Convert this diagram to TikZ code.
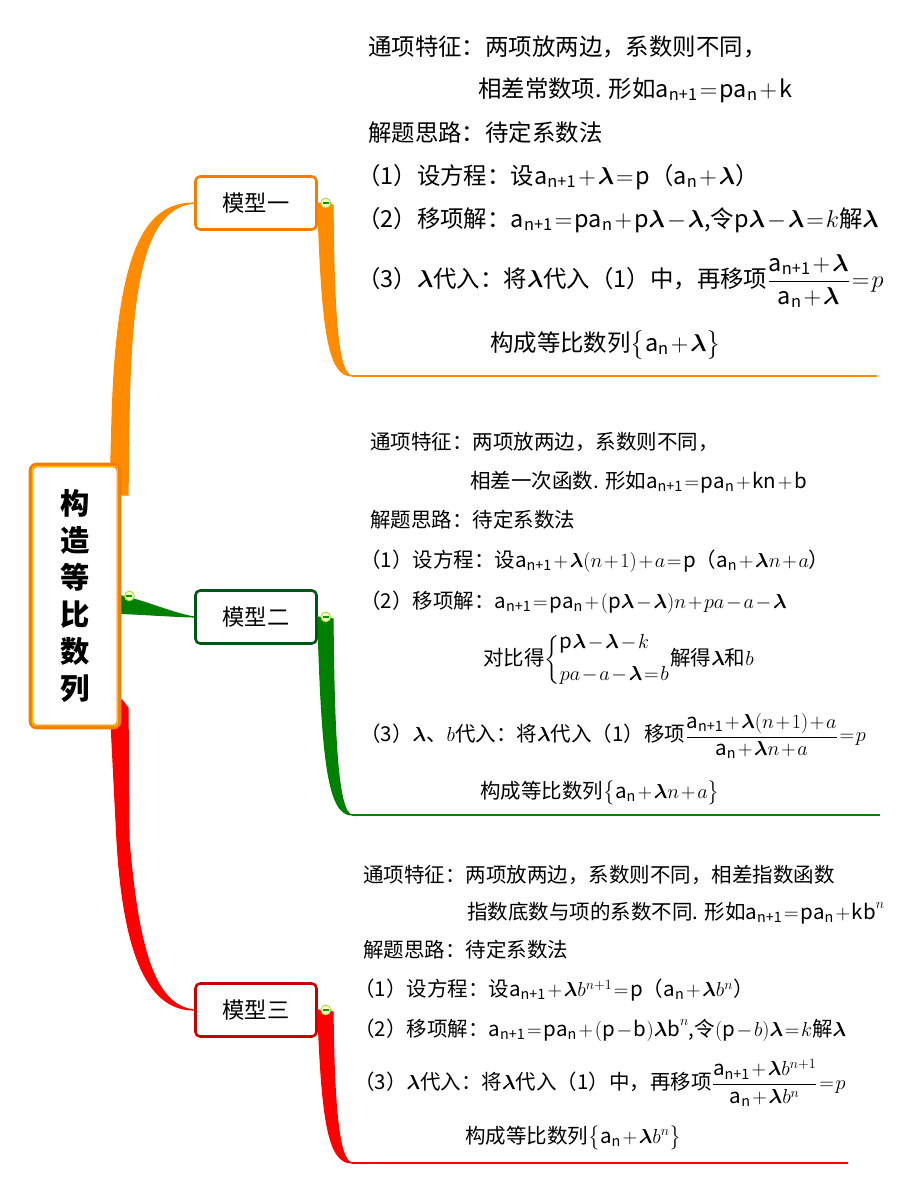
\documentclass[tikz,border=0pt]{standalone}
\usepackage{amsmath}
\usepackage{fontspec}
\setmainfont{Noto Sans CJK SC}
\usetikzlibrary{calc}

\definecolor{orangeA}{RGB}{255,140,0}
\definecolor{orangeB}{RGB}{242,125,0}
\definecolor{greenA}{RGB}{0,128,0}
\definecolor{greenB}{RGB}{0,85,20}
\definecolor{redA}{RGB}{255,0,0}
\definecolor{redB}{RGB}{200,0,0}
\definecolor{knobfill}{RGB}{240,255,190}

% a with an upright subscript, and a heavy lambda
\newcommand{\sa}[1]{\text{a}_{\text{#1}}}
\newcommand{\lam}{\boldsymbol{\lambda}}
% tight formulas, as in the notes
\medmuskip=1.5mu
\thickmuskip=1.5mu

\tikzset{
  root/.style={draw=orangeB, line width=4pt, rounded corners=5pt, fill=white,
    minimum width=2.64cm, minimum height=7.86cm, inner sep=0pt, align=center,
    font=\fontsize{25}{31.5}\selectfont\bfseries},
  model/.style={draw=#1, line width=2.2pt, rounded corners=4pt, fill=white,
    minimum width=3.63cm, minimum height=1.59cm, inner sep=0pt,
    font=\fontsize{19}{22}\selectfont},
  note/.style={anchor=west, inner sep=0pt, font=\fontsize{#1}{#1}\selectfont},
  note/.default=17.5,
  knob/.style={circle, draw=yellow!60!green, fill=knobfill, line width=0.6pt,
    minimum size=8.5pt, inner sep=0pt,
    path picture={\draw[green!60!black, line width=0.9pt]
      ([xshift=1.8pt]path picture bounding box.west) --
      ([xshift=-1.8pt]path picture bounding box.east);}},
}

\begin{document}
\begin{tikzpicture}[x=0.03cm, y=-0.03cm]
\useasboundingbox (0,0) rectangle (910,1192);
\fill[white] (0,0) rectangle (910,1192);

% The three models
\node[model=orangeB] (m1) at (256,203) {模型一};
\node[model=greenB] (m2) at (256,617) {模型二};
\node[model=redB] (m3) at (256,1010) {模型三};

% Branches from the root to the models
\filldraw[orangeA, line width=1pt] (110,495) -- (112,420) .. controls (117,250) and (145,203) .. (m1.west)
  .. controls (148,208) and (131,270) .. (129,420) -- (128,495) -- cycle;
\filldraw[greenA, line width=1pt] (112,594) .. controls (145,600) and (170,613) .. (m2.west)
  .. controls (165,616) and (140,614) .. (112,613) -- cycle;
\filldraw[redA, line width=1pt] (110,702) -- (117,840) .. controls (124,960) and (150,1010) .. (m3.west)
  .. controls (158,1006) and (139,960) .. (129,840) -- (128,708) -- (122,700) -- cycle;

% The root
\node[root] (r) at (75,596) {构\\造\\等\\比\\数\\列};
\draw[yellow!85!orange, line width=0.6pt, rounded corners=3pt]
  ($(r.north west)+(3.5,3.5)$) rectangle ($(r.south east)+(-3.5,-3.5)$);

% Branches from the models to their notes
\coordinate (b1) at (352,376);
\coordinate (e1) at (877,376);
\coordinate (b2) at (352,815);
\coordinate (e2) at (880,815);
\coordinate (b3) at (352,1163);
\coordinate (e3) at (848,1163);
\filldraw[orangeA, line width=1pt] (m1.east) .. controls (322,330) and (328,376) .. (b1)
  .. controls (338,374) and (334,320) .. (333,205) -- cycle;
\draw[orangeA, line width=2pt] (b1) -- (e1);
\filldraw[greenA, line width=1pt] (m2.east) .. controls (322,760) and (328,815) .. (b2)
  .. controls (338,813) and (334,740) .. (333,619) -- cycle;
\draw[greenA, line width=2pt] (b2) -- (e2);
\filldraw[redA, line width=1pt] (m3.east) .. controls (322,1120) and (328,1163) .. (b3)
  .. controls (338,1161) and (334,1100) .. (333,1012) -- cycle;
\draw[redA, line width=2pt] (b3) -- (e3);

% Collapse knobs
\node[knob] (k0) at ($(r.east)+(8,0)$) {};
\node[knob] (k1) at ($(m1.east)+(8,0)$) {};
\node[knob] (k2) at ($(m2.east)+(8,0)$) {};
\node[knob] (k3) at ($(m3.east)+(8,0)$) {};

% Notes of model one
\node[note=20] (n11) at (368,47) {通项特征：两项放两边，系数则不同，};
\node[note=20] (n12) at (478,90) {相差常数项. 形如$\sa{n+1}=\text{p}\sa{n}+\text{k}$};
\node[note=20] (n13) at (368,133) {解题思路：待定系数法};
\node[note=20] (n14) at (357,177) {（1）设方程：设$\sa{n+1}+\lam=\text{p}$（$\sa{n}+\lam$）};
\node[note=20] (n15) at (357,220) {（2）移项解：$\sa{n+1}=\text{p}\sa{n}+\text{p}\lam-\lam$,令$\text{p}\lam-\lam=k$解$\lam$};
\node[note=20] (n16) at (357,281) {（3）$\lam$代入：将$\lam$代入（1）中，再移项$\dfrac{\sa{n+1}+\lam}{\sa{n}+\lam}=p$};
\node[note=20] (n17) at (490,345) {构成等比数列$\big\{\sa{n}+\lam\big\}$};

% Notes of model two
\node[note] (n21) at (370,442) {通项特征：两项放两边，系数则不同，};
\node[note] (n22) at (470,482) {相差一次函数. 形如$\sa{n+1}=\text{p}\sa{n}+\text{kn}+\text{b}$};
\node[note] (n23) at (370,520) {解题思路：待定系数法};
\node[note] (n24) at (360,561) {（1）设方程：设$\sa{n+1}+\lam(n+1)+a=\text{p}$（$\sa{n}+\lam n+a$）};
\node[note] (n25) at (360,602) {（2）移项解：$\sa{n+1}=\text{p}\sa{n}+(\text{p}\lam-\lam)n+pa-a-\lam$};
\node[note] (n26) at (483,660) {对比得$\left\{\begin{array}{@{}l@{}}\text{p}\lam-\lam-k\\[10pt] pa-a-\lam=b\end{array}\right.$解得$\lam$和$b$};
\node[note] (n27) at (360,736) {（3）$\lam$、$b$代入：将$\lam$代入（1）移项$\dfrac{\sa{n+1}+\lam(n+1)+a}{\sa{n}+\lam n+a}=p$};
\node[note] (n28) at (480,793) {构成等比数列$\big\{\sa{n}+\lam n+a\big\}$};

% Notes of model three
\node[note] (n31) at (363,875) {通项特征：两项放两边，系数则不同，相差指数函数};
\node[note] (n32) at (467,913) {指数底数与项的系数不同. 形如$\sa{n+1}=\text{p}\sa{n}+\text{kb}^{n}$};
\node[note] (n33) at (363,950) {解题思路：待定系数法};
\node[note] (n34) at (354,990) {（1）设方程：设$\sa{n+1}+\lam b^{n+1}=\text{p}$（$\sa{n}+\lam b^{n}$）};
\node[note] (n35) at (354,1030) {（2）移项解：$\sa{n+1}=\text{p}\sa{n}+(\text{p}-\text{b})\lam\text{b}^{n}$,令$(\text{p}-b)\lam=k$解$\lam$};
\node[note] (n36) at (354,1083) {（3）$\lam$代入：将$\lam$代入（1）中，再移项$\dfrac{\sa{n+1}+\lam b^{n+1}}{\sa{n}+\lam b^{n}}=p$};
\node[note] (n37) at (465,1138) {构成等比数列$\big\{\sa{n}+\lam b^{n}\big\}$};
\end{tikzpicture}
\end{document}
